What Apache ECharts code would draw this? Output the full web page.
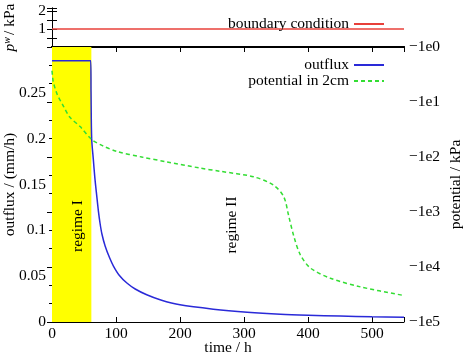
<!DOCTYPE html>
<html>
<head>
<meta charset="utf-8">
<script src="https://cdn.jsdelivr.net/npm/echarts@6/dist/echarts.min.js"></script>
<style>
  html, body { margin: 0; padding: 0; background: #fff; }
  #chart { width: 467px; height: 354px; }
</style>
</head>
<body>
<div id="chart"></div>
<script>
// boundary condition (top panel)
const bcTime = [0, 550]
const bcPressure = [1, 1]

// outflux / (mm/h)
const outfluxTime = [0, 60.5, 61, 62, 64.5, 67, 70, 72.5, 75, 78, 83, 90, 96, 105, 117, 130, 148, 170, 200, 252, 305, 357, 400, 450, 500, 550]
const outflux = [0.285, 0.285, 0.25, 0.2, 0.178, 0.157, 0.137, 0.121, 0.108, 0.096, 0.083, 0.07, 0.061, 0.051, 0.0425, 0.036, 0.0297, 0.024, 0.0187, 0.014, 0.0107, 0.0085, 0.0074, 0.0065, 0.0058, 0.0053]

// potential in 2cm / kPa
const potentialTime = [0, 1.5, 3, 8, 18, 28, 44, 62, 80, 101, 140, 180, 230, 263, 315, 346, 362, 370, 378, 388, 404, 435, 482, 550]
const potential = [-2.7, -4, -4.8, -7.2, -12, -19, -28, -48, -63, -79, -100, -123, -158, -182, -229, -324, -525, -1200, -2800, -6000, -10500, -16000, -23000, -33000]

const regimeIEnd = 61.5
const potentialDecades = [0, 1, 2, 3, 4, 5]

const font = 'Liberation Serif'
const fs = 15.5

const chart = echarts.init(document.getElementById('chart'))

const zip = (xs, ys) => xs.map((x, i) => [x, ys[i]])

const legendBase = {
  right: 77,
  align: 'right',
  itemWidth: 30,
  itemHeight: 14,
  itemStyle: { opacity: 0 },
  textStyle: { fontFamily: font, fontSize: fs, color: '#000' }
}

const tick = { inside: true, length: 5, lineStyle: { color: '#000' } }

const option = {
  animation: false,
  backgroundColor: '#fff',
  textStyle: { fontFamily: font, fontSize: fs, color: '#000' },
  grid: [
    { left: 52, top: 8, width: 352, height: 39, outerBoundsMode: 'none', containLabel: false },
    { left: 52, top: 47, width: 352, height: 275, outerBoundsMode: 'none', containLabel: false }
  ],
  legend: [
    Object.assign({}, legendBase, { data: ['boundary condition'], top: 11 }),
    Object.assign({}, legendBase, { data: ['outflux', 'potential in 2cm'], orient: 'vertical', top: 52, itemGap: 0 })
  ],
  xAxis: [
    {
      gridIndex: 0, type: 'value', min: 0, max: 550, position: 'bottom',
      axisLine: { lineStyle: { color: '#000', width: 2 } },
      axisTick: { show: false }, axisLabel: { show: false }, splitLine: { show: false }
    },
    {
      gridIndex: 0, type: 'value', min: 0, max: 550, position: 'top',
      axisLine: { lineStyle: { color: '#000', width: 1 } },
      axisTick: { show: false }, axisLabel: { show: false }, splitLine: { show: false }
    },
    {
      gridIndex: 1, type: 'value', min: 0, max: 550, interval: 100, position: 'bottom',
      name: 'time / h', nameLocation: 'middle', nameGap: 18, nameMoveOverlap: false,
      nameTextStyle: { fontFamily: font, fontSize: fs, color: '#000', verticalAlign: 'top' },
      axisLine: { lineStyle: { color: '#000', width: 1 } },
      axisTick: tick,
      axisLabel: {
        margin: 4, fontFamily: font, fontSize: fs, color: '#000',
        formatter: v => (v % 100 === 0 ? String(v) : '')
      },
      splitLine: { show: false }
    },
    {
      gridIndex: 1, type: 'value', min: 0, max: 550, interval: 100, position: 'top',
      axisLine: { lineStyle: { color: '#000', width: 2 } },
      axisTick: tick,
      axisLabel: { show: false }, splitLine: { show: false }
    }
  ],
  yAxis: [
    {
      gridIndex: 0, type: 'value', min: 0, max: 2.17, interval: 0.5, position: 'left',
      name: '{it|p}{sup|w}{n|/ kPa}', nameLocation: 'middle', nameGap: 34, nameRotate: 90, nameMoveOverlap: false,
      nameTextStyle: {
        rich: {
          it: { fontFamily: font, fontSize: fs, fontStyle: 'italic', color: '#000' },
          sup: { fontFamily: font, fontSize: 10, fontStyle: 'italic', color: '#000', verticalAlign: 'top', padding: [0, 2, 0, 0] },
          n: { fontFamily: font, fontSize: fs, color: '#000' }
        }
      },
      axisLine: { lineStyle: { color: '#000', width: 1 } },
      axisTick: tick,
      axisLabel: {
        margin: 6, fontFamily: font, fontSize: fs, color: '#000',
        formatter: v => (v === 1 || v === 2 ? String(v) : '')
      },
      splitLine: { show: false }
    },
    {
      gridIndex: 0, type: 'value', min: 0, max: 2.17, interval: 0.5, position: 'right',
      axisLine: { lineStyle: { color: '#000', width: 1 } },
      axisTick: tick,
      axisLabel: { show: false }, splitLine: { show: false }
    },
    {
      gridIndex: 1, type: 'value', min: 0, max: 0.3, interval: 0.05, position: 'left',
      name: 'outflux / (mm/h)', nameLocation: 'middle', nameGap: 34, nameRotate: 90, nameMoveOverlap: false,
      nameTextStyle: { fontFamily: font, fontSize: fs, color: '#000' },
      axisLine: { lineStyle: { color: '#000', width: 1 } },
      axisTick: tick,
      axisLabel: {
        margin: 6, fontFamily: font, fontSize: fs, color: '#000',
        formatter: v => (v > 0.29 ? '' : String(+v.toFixed(2)))
      },
      splitLine: { show: false }
    },
    {
      gridIndex: 1, type: 'value', min: 0, max: 5, interval: 1, inverse: true, position: 'right',
      name: 'potential / kPa', nameLocation: 'middle', nameGap: 44, nameRotate: 90, nameMoveOverlap: false,
      nameTextStyle: { fontFamily: font, fontSize: fs, color: '#000' },
      axisLine: { lineStyle: { color: '#000', width: 1 } },
      axisTick: tick,
      minorTick: { show: true, splitNumber: 3, length: 3, lineStyle: { color: '#000' } },
      axisLabel: {
        margin: 5, fontFamily: font, fontSize: fs, color: '#000',
        formatter: v => (potentialDecades.includes(v) ? '\u22121e' + v : '')
      },
      splitLine: { show: false }
    }
  ],
  graphic: [
    {
      type: 'text', x: 78, y: 226, rotation: Math.PI / 2, z: 100,
      style: { text: 'regime I', font: fs + 'px "' + font + '"', fill: '#000', textAlign: 'center', textVerticalAlign: 'middle' }
    },
    {
      type: 'text', x: 232, y: 225, rotation: Math.PI / 2, z: 100,
      style: { text: 'regime II', font: fs + 'px "' + font + '"', fill: '#000', textAlign: 'center', textVerticalAlign: 'middle' }
    }
  ],
  series: [
    {
      name: 'boundary condition', type: 'line', xAxisIndex: 0, yAxisIndex: 0,
      data: zip(bcTime, bcPressure), symbol: 'none',
      itemStyle: { color: '#e8403a' }, lineStyle: { color: '#e8403a', width: 1.5 }
    },
    {
      name: 'outflux', type: 'line', xAxisIndex: 2, yAxisIndex: 2,
      data: zip(outfluxTime, outflux), symbol: 'none', smooth: 0.3,
      itemStyle: { color: '#2a2ad8' }, lineStyle: { color: '#2a2ad8', width: 1.5 },
      markArea: {
        silent: true,
        itemStyle: { color: '#ffff00' },
        data: [[{ xAxis: 0 }, { xAxis: regimeIEnd }]]
      },
      z: 3
    },
    {
      name: 'potential in 2cm', type: 'line', xAxisIndex: 2, yAxisIndex: 3,
      data: zip(potentialTime, potential.map(p => Math.log10(-p))), symbol: 'none', smooth: 0.3,
      itemStyle: { color: '#33dd33' }, lineStyle: { color: '#33dd33', width: 1.5, type: [4, 3] },
      z: 3
    }
  ]
}

chart.setOption(option)
</script>
</body>
</html>
